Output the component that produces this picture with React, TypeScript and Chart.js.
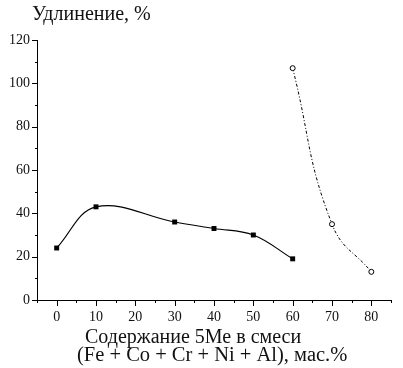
import { useEffect, useRef } from 'react';
import { Chart, registerables } from 'chart.js';

Chart.register(...registerables);

// ---- data ----
const mainX = [0, 10, 30, 40, 50, 60];
const mainY = [24, 43, 36, 33, 30, 19];
const sideX = [60, 70, 80];
const sideY = [107, 35, 13];
const xTickLabels = [0, 10, 20, 30, 40, 50, 60, 70, 80];
const yTickLabels = [0, 20, 40, 60, 80, 100, 120];
const yTitle = 'Удлинение, %';
const xTitle = ['Содержание 5Ме в смеси', '(Fe + Co + Cr + Ni + Al), мас.%'];

const FONT = "'Liberation Serif', 'DejaVu Serif', serif";

const ticksAndTitles = {
  id: 'ticksAndTitles',
  afterDraw(chart: any) {
    const { ctx, chartArea } = chart;
    const xs = chart.scales.x;
    const ys = chart.scales.y;
    ctx.save();
    ctx.strokeStyle = '#000';
    ctx.lineWidth = 1;
    ctx.beginPath();
    for (let v = xs.min; v <= xs.max + 1e-9; v += 5) {
      const px = Math.round(xs.getPixelForValue(v)) + 0.5;
      const major = xTickLabels.includes(v);
      ctx.moveTo(px, chartArea.bottom);
      ctx.lineTo(px, chartArea.bottom + (major ? 6 : 3));
    }
    for (let v = ys.min; v <= ys.max + 1e-9; v += 10) {
      const py = Math.round(ys.getPixelForValue(v)) + 0.5;
      const major = yTickLabels.includes(v);
      ctx.moveTo(chartArea.left, py);
      ctx.lineTo(chartArea.left - (major ? 5 : 2), py);
    }
    ctx.stroke();

    ctx.fillStyle = '#111';
    ctx.textBaseline = 'alphabetic';
    ctx.textAlign = 'left';
    ctx.font = `20px ${FONT}`;
    ctx.fillText(yTitle, chartArea.left - 5, 20);
    ctx.fillText(xTitle[0], chartArea.left + 48, chartArea.bottom + 43);
    ctx.font = `20.5px ${FONT}`;
    ctx.fillText(xTitle[1], chartArea.left + 40, chartArea.bottom + 61);
    ctx.restore();
  },
};

export default function App() {
  const ref = useRef<HTMLCanvasElement | null>(null);

  useEffect(() => {
    if (!ref.current) return;
    const chart = new Chart(ref.current, {
      type: 'line',
      data: {
        datasets: [
          {
            data: mainX.map((x, i) => ({ x, y: mainY[i] })),
            borderColor: '#000',
            borderWidth: 1.2,
            tension: 0.38,
            pointStyle: 'rect',
            pointRadius: 3.5,
            pointBackgroundColor: '#000',
            pointBorderColor: '#000',
            pointBorderWidth: 0,
          },
          {
            data: sideX.map((x, i) => ({ x, y: sideY[i] })),
            borderColor: '#000',
            borderWidth: 1,
            borderDash: [3, 2, 1, 2],
            tension: 0.45,
            pointStyle: 'circle',
            pointRadius: 2.5,
            pointBackgroundColor: '#fff',
            pointBorderColor: '#000',
            pointBorderWidth: 1,
          },
        ],
      },
      options: {
        animation: false,
        responsive: false,
        layout: { padding: { left: 0, right: 12, top: 40, bottom: 0 } },
        plugins: { legend: { display: false }, tooltip: { enabled: false }, title: { display: false } },
        scales: {
          x: {
            type: 'linear',
            min: -5,
            max: 85,
            afterFit: (s: any) => { s.height = 68; },
            grid: { drawOnChartArea: false, tickColor: 'transparent', tickLength: 6 },
            border: { color: '#000', width: 1 },
            ticks: {
              stepSize: 5,
              padding: 3,
              maxRotation: 0,
              autoSkip: false,
              color: '#111',
              font: { family: FONT, size: 14 },
              callback: (v: any) => (xTickLabels.includes(Number(v)) ? String(v) : ''),
            },
          },
          y: {
            type: 'linear',
            min: 0,
            max: 120,
            afterFit: (s: any) => { s.width = 37; },
            grid: { drawOnChartArea: false, tickColor: 'transparent', tickLength: 5 },
            border: { color: '#000', width: 1 },
            ticks: {
              stepSize: 10,
              padding: 2,
              autoSkip: false,
              color: '#111',
              font: { family: FONT, size: 14 },
              callback: (v: any) => (yTickLabels.includes(Number(v)) ? String(v) : ''),
            },
          },
        },
      },
      plugins: [ticksAndTitles],
    });
    return () => chart.destroy();
  }, []);

  return (
    <div style={{ position: 'absolute', left: 0, top: 0, width: 403, height: 368, background: '#fff' }}>
      <canvas ref={ref} width={403} height={368} />
    </div>
  );
}
